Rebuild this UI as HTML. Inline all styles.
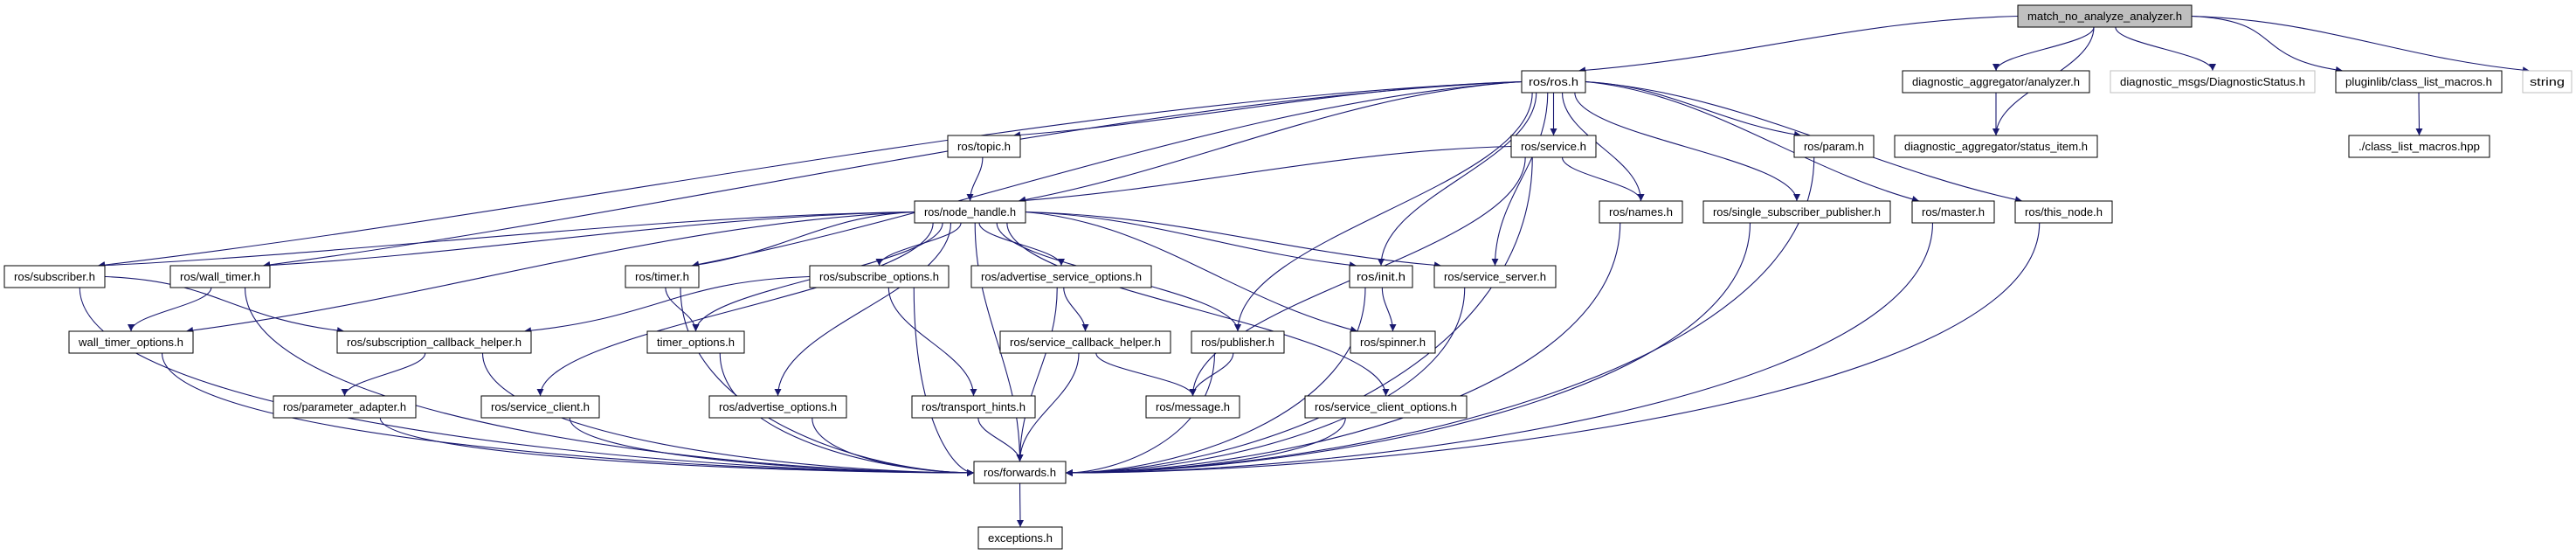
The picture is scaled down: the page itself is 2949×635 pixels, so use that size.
<!DOCTYPE html>
<html><head><meta charset="utf-8">
<style>
html,body{margin:0;padding:0;background:#fff;}
svg{display:block;}
text{font-family:"Liberation Sans",Arial,sans-serif;font-size:13px;fill:#000;}
</style></head>
<body>
<svg id="s" width="2949" height="635" viewBox="0 0 2949 635" xmlns="http://www.w3.org/2000/svg">
<defs>
<marker id="ah" viewBox="0 0 10 10" refX="10" refY="5" markerWidth="10" markerHeight="8" markerUnits="userSpaceOnUse" orient="auto">
<path d="M0,0 L10,5 L0,10 z" fill="#191970"/>
</marker>
</defs>
<g id="edges" fill="none" stroke="#191970" stroke-width="1.1"></g>
<g id="nodes">
<g id="match"><rect x="2310" y="6" width="199" height="25" fill="#bfbfbf" stroke="#000"/><text x="2409.5" y="23" text-anchor="middle">match_no_analyze_analyzer.h</text></g>
<g id="ros"><rect x="1742" y="81" width="73" height="25" fill="#fff" stroke="#000"/><text x="1778.5" y="98" text-anchor="middle">ros/ros.h</text></g>
<g id="analyzer"><rect x="2178" y="81" width="214" height="25" fill="#fff" stroke="#000"/><text x="2285" y="98" text-anchor="middle">diagnostic_aggregator/analyzer.h</text></g>
<g id="dstatus"><rect x="2416" y="81" width="234" height="25" fill="#fff" stroke="#bfbfbf"/><text x="2533" y="98" text-anchor="middle">diagnostic_msgs/DiagnosticStatus.h</text></g>
<g id="plugin"><rect x="2674" y="81" width="190" height="25" fill="#fff" stroke="#000"/><text x="2769" y="98" text-anchor="middle">pluginlib/class_list_macros.h</text></g>
<g id="string"><rect x="2888" y="81" width="56" height="25" fill="#fff" stroke="#bfbfbf"/><text x="2916" y="98" text-anchor="middle">string</text></g>
<g id="topic"><rect x="1085" y="155" width="83" height="25" fill="#fff" stroke="#000"/><text x="1126.5" y="172" text-anchor="middle">ros/topic.h</text></g>
<g id="service"><rect x="1730" y="155" width="97" height="25" fill="#fff" stroke="#000"/><text x="1778.5" y="172" text-anchor="middle">ros/service.h</text></g>
<g id="param"><rect x="2054" y="155" width="91" height="25" fill="#fff" stroke="#000"/><text x="2099.5" y="172" text-anchor="middle">ros/param.h</text></g>
<g id="status"><rect x="2169" y="155" width="232" height="25" fill="#fff" stroke="#000"/><text x="2285" y="172" text-anchor="middle">diagnostic_aggregator/status_item.h</text></g>
<g id="clm"><rect x="2689" y="155" width="161" height="25" fill="#fff" stroke="#000"/><text x="2769.5" y="172" text-anchor="middle">./class_list_macros.hpp</text></g>
<g id="nh"><rect x="1047" y="230" width="127" height="25" fill="#fff" stroke="#000"/><text x="1110.5" y="247" text-anchor="middle">ros/node_handle.h</text></g>
<g id="names"><rect x="1831" y="230" width="95" height="25" fill="#fff" stroke="#000"/><text x="1878.5" y="247" text-anchor="middle">ros/names.h</text></g>
<g id="ssp"><rect x="1950" y="230" width="214" height="25" fill="#fff" stroke="#000"/><text x="2057" y="247" text-anchor="middle">ros/single_subscriber_publisher.h</text></g>
<g id="master"><rect x="2189" y="230" width="94" height="25" fill="#fff" stroke="#000"/><text x="2236" y="247" text-anchor="middle">ros/master.h</text></g>
<g id="thisnode"><rect x="2307" y="230" width="111" height="25" fill="#fff" stroke="#000"/><text x="2362.5" y="247" text-anchor="middle">ros/this_node.h</text></g>
<g id="sub"><rect x="5" y="304" width="115" height="25" fill="#fff" stroke="#000"/><text x="62.5" y="321" text-anchor="middle">ros/subscriber.h</text></g>
<g id="wt"><rect x="195" y="304" width="114" height="25" fill="#fff" stroke="#000"/><text x="252" y="321" text-anchor="middle">ros/wall_timer.h</text></g>
<g id="timer"><rect x="716" y="304" width="84" height="25" fill="#fff" stroke="#000"/><text x="758" y="321" text-anchor="middle">ros/timer.h</text></g>
<g id="subopt"><rect x="927" y="304" width="159" height="25" fill="#fff" stroke="#000"/><text x="1006.5" y="321" text-anchor="middle">ros/subscribe_options.h</text></g>
<g id="aso"><rect x="1112" y="304" width="206" height="25" fill="#fff" stroke="#000"/><text x="1215" y="321" text-anchor="middle">ros/advertise_service_options.h</text></g>
<g id="init"><rect x="1545" y="304" width="72" height="25" fill="#fff" stroke="#000"/><text x="1581" y="321" text-anchor="middle">ros/init.h</text></g>
<g id="ssrv"><rect x="1642" y="304" width="139" height="25" fill="#fff" stroke="#000"/><text x="1711.5" y="321" text-anchor="middle">ros/service_server.h</text></g>
<g id="wto"><rect x="79" y="379" width="142" height="25" fill="#fff" stroke="#000"/><text x="150" y="396" text-anchor="middle">wall_timer_options.h</text></g>
<g id="sch"><rect x="386" y="379" width="222" height="25" fill="#fff" stroke="#000"/><text x="497" y="396" text-anchor="middle">ros/subscription_callback_helper.h</text></g>
<g id="to"><rect x="741" y="379" width="111" height="25" fill="#fff" stroke="#000"/><text x="796.5" y="396" text-anchor="middle">timer_options.h</text></g>
<g id="svch"><rect x="1145" y="379" width="195" height="25" fill="#fff" stroke="#000"/><text x="1242.5" y="396" text-anchor="middle">ros/service_callback_helper.h</text></g>
<g id="pub"><rect x="1364" y="379" width="106" height="25" fill="#fff" stroke="#000"/><text x="1417" y="396" text-anchor="middle">ros/publisher.h</text></g>
<g id="spin"><rect x="1546" y="379" width="97" height="25" fill="#fff" stroke="#000"/><text x="1594.5" y="396" text-anchor="middle">ros/spinner.h</text></g>
<g id="pa"><rect x="313" y="453" width="163" height="25" fill="#fff" stroke="#000"/><text x="394.5" y="470" text-anchor="middle">ros/parameter_adapter.h</text></g>
<g id="sc"><rect x="551" y="453" width="135" height="25" fill="#fff" stroke="#000"/><text x="618.5" y="470" text-anchor="middle">ros/service_client.h</text></g>
<g id="ao"><rect x="812" y="453" width="157" height="25" fill="#fff" stroke="#000"/><text x="890.5" y="470" text-anchor="middle">ros/advertise_options.h</text></g>
<g id="th"><rect x="1044" y="453" width="141" height="25" fill="#fff" stroke="#000"/><text x="1114.5" y="470" text-anchor="middle">ros/transport_hints.h</text></g>
<g id="msg"><rect x="1312" y="453" width="107" height="25" fill="#fff" stroke="#000"/><text x="1365.5" y="470" text-anchor="middle">ros/message.h</text></g>
<g id="sco"><rect x="1494" y="453" width="185" height="25" fill="#fff" stroke="#000"/><text x="1586.5" y="470" text-anchor="middle">ros/service_client_options.h</text></g>
<g id="fw"><rect x="1115" y="528" width="105" height="25" fill="#fff" stroke="#000"/><text x="1167.5" y="545" text-anchor="middle">ros/forwards.h</text></g>
<g id="exc"><rect x="1120" y="603" width="96" height="25" fill="#fff" stroke="#000"/><text x="1168" y="620" text-anchor="middle">exceptions.h</text></g>
</g>
</svg>
<script>
(function(){
var E=[["match","ros"],["match","analyzer"],["match","dstatus"],["match","plugin"],["match","string"],["match","status"],
["analyzer","status"],["plugin","clm"],
["ros","sub"],["ros","topic"],["ros","nh"],["ros","service"],["ros","param"],["ros","names"],["ros","ssp"],["ros","master"],["ros","thisnode"],["ros","init"],["ros","ssrv"],["ros","pub"],["ros","timer"],["ros","wt"],
["topic","nh"],["service","nh"],["service","names"],["service","msg"],["service","fw"],
["nh","sub"],["nh","wt"],["nh","wto"],["nh","timer"],["nh","to"],["nh","subopt"],["nh","aso"],["nh","ao"],["nh","sc"],["nh","pub"],["nh","init"],["nh","spin"],["nh","ssrv"],["nh","sco"],["nh","fw"],
["sub","sch"],["sub","fw"],["wt","wto"],["wt","fw"],["wto","fw"],["sch","pa"],["sch","fw"],["pa","fw"],["sc","fw"],
["timer","to"],["timer","fw"],["to","fw"],["subopt","sch"],["subopt","th"],["subopt","fw"],["ao","fw"],["th","fw"],
["aso","svch"],["aso","fw"],["svch","msg"],["svch","fw"],["pub","msg"],["pub","fw"],["sco","fw"],
["init","spin"],["init","fw"],["ssrv","fw"],["names","fw"],["ssp","fw"],["master","fw"],["thisnode","fw"],["param","fw"],["fw","exc"]];
var g=document.getElementById("edges");
function box(id){var r=document.querySelector("#"+id+" rect");return {x:+r.getAttribute("x"),y:+r.getAttribute("y"),w:+r.getAttribute("width"),h:+r.getAttribute("height")};}
document.querySelectorAll("#nodes g").forEach(function(n){
 var r=n.querySelector("rect"),t=n.querySelector("text");
 var w=+r.getAttribute("width");
 t.setAttribute("textLength",Math.max(20,w-(w<80?16:22)));
 t.setAttribute("lengthAdjust","spacingAndGlyphs");
});
E.forEach(function(e){
 var a=box(e[0]),b=box(e[1]);
 var sx=a.x+a.w/2,sy=a.y+a.h,tx=b.x+b.w/2,ty=b.y,d;
 var dy=ty-sy,dx=tx-sx;
 if(e[1]=="fw" && Math.abs(dx)>150){
   ty=b.y+13; tx=dx<0?b.x+b.w:b.x;
   sx=a.x+a.w/2+(dx<0?-a.w*0.25:a.w*0.25);
   d="M"+sx+","+sy+" C"+sx+","+(sy+(ty-sy)*0.7)+" "+(tx+(sx-tx)*0.35)+","+ty+" "+tx+","+ty;
 } else if(Math.abs(dx)>3*Math.abs(dy)){
   sx=dx<0?a.x:a.x+a.w; sy=a.y+a.h*0.5;
   tx=dx<0?b.x+b.w-8:b.x+8;
   d="M"+sx+","+sy+" C"+(sx+dx*0.3)+","+(sy+dy*0.1)+" "+(tx-dx*0.3)+","+(ty-dy*0.3)+" "+tx+","+ty;
 } else {
   sx=sx+Math.max(-a.w/3,Math.min(a.w/3,dx*0.1));
   d="M"+sx+","+sy+" C"+sx+","+(sy+dy*0.4)+" "+tx+","+(ty-dy*0.4)+" "+tx+","+ty;
 }
 var p=document.createElementNS("http://www.w3.org/2000/svg","path");
 p.setAttribute("d",d);p.setAttribute("marker-end","url(#ah)");
 g.appendChild(p);
});
})();
</script>
</body></html>
